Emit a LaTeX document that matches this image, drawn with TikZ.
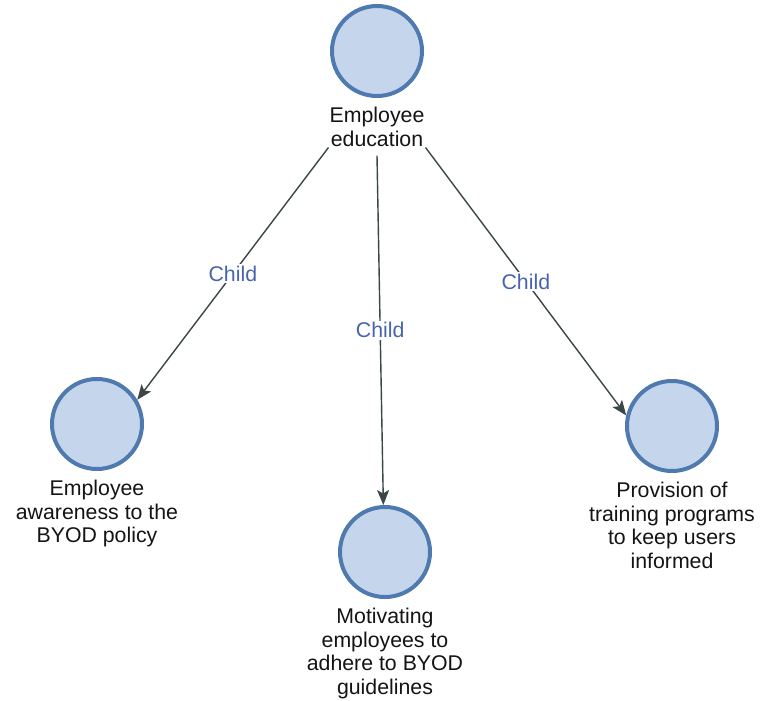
\documentclass[tikz,border=0pt]{standalone}
\usepackage{fontspec}
\setmainfont{Liberation Sans}
\usetikzlibrary{arrows.meta,positioning}
\definecolor{nodefill}{RGB}{197,214,236}
\definecolor{nodeline}{RGB}{78,122,176}
\definecolor{edgeline}{RGB}{58,70,72}
\definecolor{edgetext}{RGB}{72,100,172}
\definecolor{labeltext}{RGB}{20,20,20}
\begin{document}
\begin{tikzpicture}[x=1pt,y=-1pt,
  vertex/.style={circle, draw=nodeline, fill=nodefill, line width=4pt,
    minimum size=90pt, inner sep=0pt},
  vlabel/.style={align=center, inner sep=1pt, text=labeltext,
    font=\fontsize{21.3}{23.5}\selectfont},
  link/.style={draw=edgeline, line width=1.4pt,
    -{Stealth[length=15pt,width=12pt,inset=3.5pt]}},
  linklabel/.style={fill=white, inner sep=1.5pt, text=edgetext,
    font=\fontsize{21.3}{23.5}\selectfont}]
\useasboundingbox[fill=white] (0,0) rectangle (760,701);

% vertices
\node[vertex] (c0) at (377,51)  {};
\node[vertex] (c1) at (97,424)  {};
\node[vertex] (c2) at (385,552) {};
\node[vertex] (c3) at (672,426) {};

% vertex captions
\node[vlabel, below=8pt of c0] (l0) {Employee\\education};
\node[vlabel, below=8pt of c1] (l1) {Employee\\awareness to the\\BYOD policy};
\node[vlabel, below=8pt of c2] (l2) {Motivating\\employees to\\adhere to BYOD\\guidelines};
\node[vlabel, below=8pt of c3] (l3) {Provision of\\training programs\\to keep users\\informed};

% parent-child links
\draw[link] (l0.south west) -- node[linklabel] {Child} (c1.31);
\draw[link] ([yshift=-8pt]l0.south) -- node[linklabel] {Child} (c2.92);
\draw[link] (l0.south east) -- node[linklabel] {Child} (c3.167);
\end{tikzpicture}
\end{document}
